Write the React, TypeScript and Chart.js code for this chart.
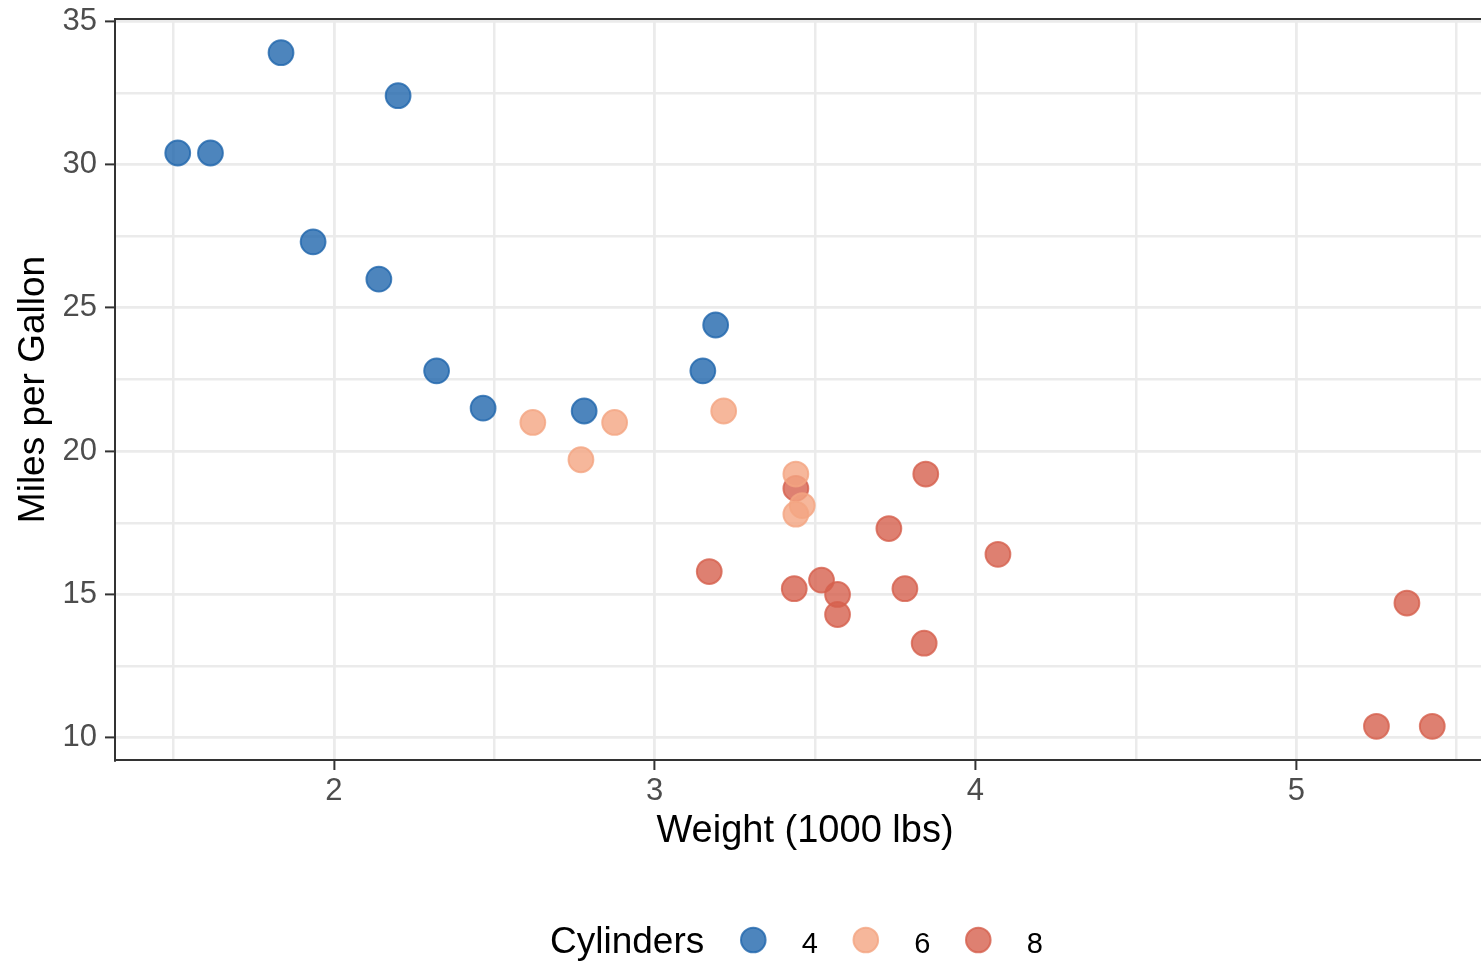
import React, { useEffect, useRef } from "react";
import { Chart, registerables } from "chart.js";

Chart.register(...registerables);

// mtcars: weight (1000 lbs) and mpg by number of cylinders
const wt4 = [2.32, 3.19, 3.15, 2.2, 1.615, 1.835, 2.465, 1.935, 2.14, 1.513, 2.78];
const mpg4 = [22.8, 24.4, 22.8, 32.4, 30.4, 33.9, 21.5, 27.3, 26.0, 30.4, 21.4];
const wt6 = [2.62, 2.875, 3.215, 3.46, 3.44, 3.44, 2.77];
const mpg6 = [21.0, 21.0, 21.4, 18.1, 19.2, 17.8, 19.7];
const wt8 = [3.44, 3.57, 4.07, 3.73, 3.78, 5.25, 5.424, 5.345, 3.52, 3.435, 3.84, 3.845, 3.17, 3.57];
const mpg8 = [18.7, 14.3, 16.4, 17.3, 15.2, 10.4, 10.4, 14.7, 15.5, 15.2, 13.3, 19.2, 15.8, 15.0];

const groupLabels = ["4", "6", "8"];
const groupColors = ["33,102,172", "244,165,130", "214,96,77"];

const xTitle = "Weight (1000 lbs)";
const yTitle = "Miles per Gallon";
const legendTitle = "Cylinders";

const FONT = "'Liberation Sans', Arial, Helvetica, sans-serif";

const toPoints = (xs: number[], ys: number[]) => xs.map((x, i) => ({ x, y: ys[i] }));

const isMult = (v: number, m: number) => Math.abs(v / m - Math.round(v / m)) < 1e-6;

const panelBorder = {
  id: "panelBorder",
  afterDatasetsDraw(chart: any) {
    const { ctx, chartArea } = chart;
    ctx.save();
    ctx.strokeStyle = "#333333";
    ctx.lineWidth = 2;
    ctx.strokeRect(chartArea.left, chartArea.top, chartArea.right - chartArea.left, chartArea.bottom - chartArea.top);
    ctx.restore();
  },
};

const bottomLegend = {
  id: "bottomLegend",
  afterDraw(chart: any) {
    const { ctx, chartArea } = chart;
    const cx = (chartArea.left + chartArea.right) / 2;
    const cy = 940;
    ctx.save();
    ctx.fillStyle = "#000000";
    ctx.textBaseline = "alphabetic";
    ctx.textAlign = "left";
    ctx.font = `37px ${FONT}`;
    ctx.fillText(legendTitle, cx - 255, 953);
    const ds = chart.data.datasets;
    ds.forEach((d: any, i: number) => {
      const px = cx - 51.7 + i * 112.5;
      ctx.beginPath();
      ctx.arc(px, cy, 12.3, 0, Math.PI * 2);
      ctx.fillStyle = d.backgroundColor;
      ctx.fill();
      ctx.lineWidth = 2;
      ctx.strokeStyle = d.borderColor;
      ctx.stroke();
      ctx.fillStyle = "#000000";
      ctx.font = `29px ${FONT}`;
      ctx.fillText(d.label, px + 48.5, 953);
    });
    ctx.restore();
  },
};

export default function App() {
  const ref = useRef<HTMLCanvasElement | null>(null);

  useEffect(() => {
    if (!ref.current) return;
    const series = [
      toPoints(wt4, mpg4),
      toPoints(wt6, mpg6),
      toPoints(wt8, mpg8),
    ];
    const chart = new Chart(ref.current, {
      type: "scatter",
      data: {
        datasets: series.map((pts, i) => ({
          label: groupLabels[i],
          data: pts,
          backgroundColor: `rgba(${groupColors[i]},0.8)`,
          borderColor: `rgba(${groupColors[i]},0.8)`,
          borderWidth: 2,
          pointRadius: 12.4,
          pointHoverRadius: 12.4,
        })),
      },
      options: {
        animation: false,
        responsive: false,
        devicePixelRatio: 1,
        events: [],
        layout: { padding: { top: 19, right: 15, left: 0, bottom: 0 } },
        plugins: {
          legend: { display: false },
          tooltip: { enabled: false },
          title: { display: false },
        },
        scales: {
          x: {
            type: "linear",
            min: 1.3174,
            max: 5.6196,
            afterFit: (s: any) => {
              s.height = 204;
              s.paddingLeft = 0;
              s.paddingRight = 0;
            },
            ticks: {
              stepSize: 0.5,
              includeBounds: false,
              autoSkip: false,
              maxRotation: 0,
              padding: 3,
              color: "#4D4D4D",
              font: { family: FONT, size: 31 },
              callback: (v: any) => (isMult(Number(v), 1) ? String(v) : ""),
            },
            grid: {
              color: "#EBEBEB",
              lineWidth: (c: any) => (c.tick && isMult(c.tick.value, 1) ? 2.8 : 2.5),
              tickLength: 10,
              tickWidth: 2,
              tickColor: (c: any) => (c.tick && isMult(c.tick.value, 1) ? "#333333" : "rgba(0,0,0,0)"),
            },
            border: { display: true, color: "#333333", width: 2 },
            title: {
              display: true,
              text: xTitle,
              color: "#000000",
              font: { family: FONT, size: 38 },
              padding: { top: 0, bottom: 110 },
            },
          },
          y: {
            type: "linear",
            min: 9.225,
            max: 35.075,
            afterFit: (s: any) => {
              s.width = 115;
              s.paddingTop = 0;
              s.paddingBottom = 0;
            },
            ticks: {
              stepSize: 2.5,
              includeBounds: false,
              autoSkip: false,
              padding: 8,
              color: "#4D4D4D",
              font: { family: FONT, size: 31 },
              callback: (v: any) => (isMult(Number(v), 5) ? String(v) : ""),
            },
            grid: {
              color: "#EBEBEB",
              lineWidth: (c: any) => (c.tick && isMult(c.tick.value, 5) ? 2.8 : 2.5),
              tickLength: 10,
              tickWidth: 2,
              tickColor: (c: any) => (c.tick && isMult(c.tick.value, 5) ? "#333333" : "rgba(0,0,0,0)"),
            },
            border: { display: true, color: "#333333", width: 2 },
            title: {
              display: true,
              text: yTitle,
              color: "#000000",
              font: { family: FONT, size: 37 },
              padding: { top: 12, bottom: 0 },
            },
          },
        },
      },
      plugins: [panelBorder, bottomLegend],
    });
    return () => chart.destroy();
  }, []);

  return (
    <div
      style={{
        position: "absolute",
        left: 0,
        top: 0,
        width: 1481,
        height: 964,
        overflow: "hidden",
        background: "#ffffff",
      }}
    >
      <canvas ref={ref} width={1510} height={964} style={{ display: "block", width: 1510, height: 964 }} />
    </div>
  );
}
